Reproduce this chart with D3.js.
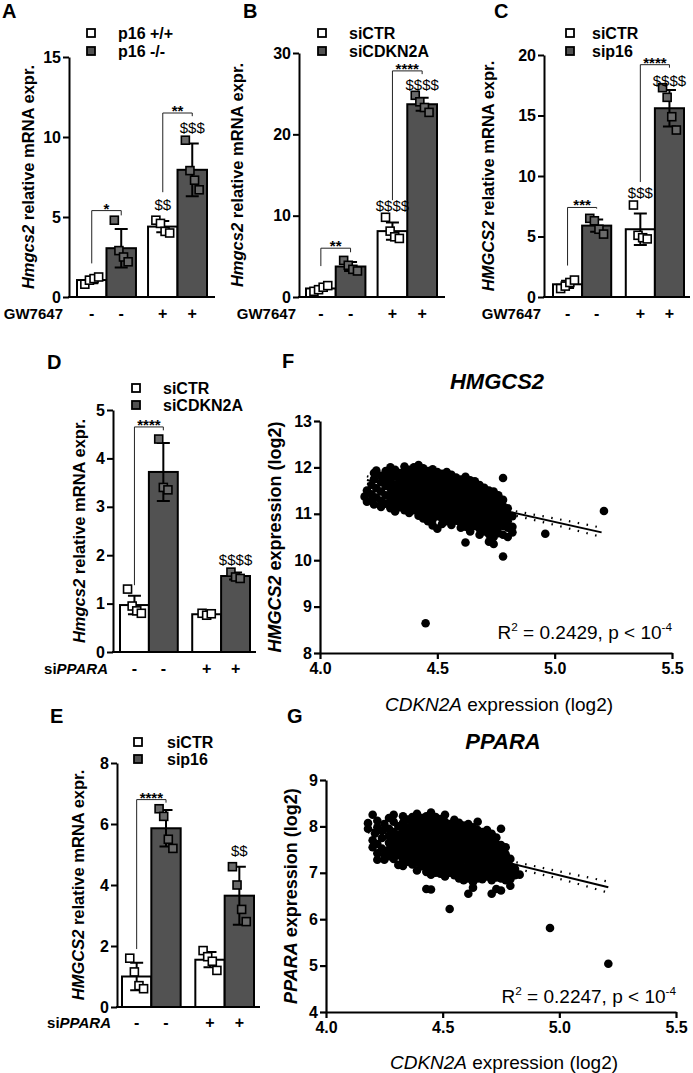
<!DOCTYPE html>
<html><head><meta charset="utf-8">
<script src="https://cdn.jsdelivr.net/npm/d3@7"></script>
<style>
body{margin:0;background:#fff}
svg{display:block;font-family:"Liberation Sans",Arial,Helvetica,sans-serif}
</style></head>
<body><svg id="c" width="693" height="1073"></svg>
<script>
// ================= DATA =================
// Panel A
const aSeries = ["p16 +/+", "p16 -/-"];
const aTreat = ["-", "-", "+", "+"];
const aMean = [1.06, 3.05, 4.4, 7.95];
const aSD = [0.2, 1.2, 0.35, 1.65];
const aReps = [[0.8, 1.05, 1.15, 1.25], [4.8, 2.9, 2.5, 2.2], [4.8, 4.6, 4.1, 4.0], [9.8, 7.9, 7.3, 6.7]];
const aTicks = [0, 5, 10, 15];
const aStars = ["*", "**"];
const aDollars = ["", "", "$$", "$$$"];
// Panel B
const bSeries = ["siCTR", "siCDKN2A"];
const bTreat = ["-", "-", "+", "+"];
const bMean = [1.05, 3.75, 8.1, 23.7];
const bSD = [0.3, 0.55, 1.05, 0.8];
const bReps = [[0.7, 0.9, 1.2, 1.4], [4.5, 3.9, 3.4, 3.2], [9.8, 8.1, 7.4, 7.2], [24.8, 24.0, 23.3, 22.7]];
const bTicks = [0, 10, 20, 30];
const bStars = ["**", "****"];
const bDollars = ["", "", "$$$$", "$$$$"];
// Panel C
const cSeries = ["siCTR", "sip16"];
const cTreat = ["-", "-", "+", "+"];
const cMean = [1.05, 5.9, 5.6, 15.6];
const cSD = [0.3, 0.5, 1.3, 1.5];
const cReps = [[0.7, 0.9, 1.2, 1.4], [6.5, 6.3, 5.6, 5.2], [7.6, 5.1, 4.9, 4.8], [17.3, 16.5, 14.9, 13.8]];
const cTicks = [0, 5, 10, 15, 20];
const cStars = ["***", "****"];
const cDollars = ["", "", "$$$", "$$$$"];
// Panel D
const dSeries = ["siCTR", "siCDKN2A"];
const dTreat = ["-", "-", "+", "+"];
const dMean = [0.97, 3.72, 0.78, 1.57];
const dSD = [0.19, 0.6, 0.04, 0.07];
const dReps = [[1.3, 0.95, 0.85, 0.8], [4.4, 3.4, 3.35], [0.8, 0.76, 0.79], [1.65, 1.55, 1.52]];
const dTicks = [0, 1, 2, 3, 4, 5];
const dStars = ["****"];
const dDollars = ["", "", "", "$$$$"];
// Panel E
const eSeries = ["siCTR", "sip16"];
const eTreat = ["-", "-", "+", "+"];
const eMean = [1.0, 5.86, 1.55, 3.65];
const eSD = [0.45, 0.6, 0.25, 0.95];
const eReps = [[1.6, 1.15, 0.7, 0.6], [6.5, 6.25, 5.5, 5.2], [1.85, 1.65, 1.5, 1.2], [4.6, 4.0, 3.2, 2.8]];
const eTicks = [0, 2, 4, 6, 8];
const eStars = ["****"];
const eDollars = ["", "", "", "$$"];

// Panel F scatter (CDKN2A log2, HMGCS2 log2), columns of points
const fCols = [
 [4.19,[11.37]],[4.20,[11.50,11.26]],[4.22,[11.62,11.42,11.30]],[4.23,[11.88,11.75,11.20]],
 [4.24,[11.55,11.35,11.93]],[4.26,[11.82,11.68,11.48,11.28,11.15]],[4.28,[11.92,11.60,11.40,11.22,11.75]],
 [4.30,[12.00,11.85,11.70,11.55,11.42,11.28,11.12]],[4.32,[11.95,11.80,11.62,11.48,11.35,11.20,11.05]],
 [4.34,[11.88,11.74,11.58,11.42,11.28,11.14]],[4.36,[12.02,11.90,11.66,11.52,11.38,11.22,11.08,11.78]],
 [4.38,[11.95,11.82,11.70,11.56,11.44,11.30,11.16,11.02]],[4.40,[11.88,11.75,11.62,11.48,11.35,11.22,11.08,12.00]],
 [4.42,[12.05,11.92,11.80,11.66,11.52,11.40,11.26,11.12,10.96]],[4.44,[11.98,11.85,11.72,11.58,11.45,11.32,11.18,11.04,10.90]],
 [4.46,[11.92,11.78,11.65,11.52,11.38,11.25,11.12,10.98,10.84]],[4.48,[11.96,11.84,11.70,11.56,11.42,11.30,11.16,11.02,10.88,10.75]],
 [4.50,[11.90,11.76,11.62,11.50,11.36,11.22,11.08,10.95,10.68]],[4.52,[11.86,11.72,11.58,11.44,11.30,11.18,11.04,10.90,10.78]],
 [4.54,[11.90,11.78,11.64,11.50,11.38,11.24,11.10,10.96,10.84]],[4.56,[11.84,11.70,11.56,11.42,11.30,11.16,11.02,10.88,10.76]],
 [4.58,[11.78,11.65,11.52,11.38,11.25,11.12,10.98,10.85]],[4.60,[11.74,11.60,11.46,11.34,11.20,11.06,10.94,10.80,10.70]],
 [4.62,[11.80,11.66,11.52,11.40,11.26,11.12,11.00,10.86,10.72,10.38]],[4.64,[11.72,11.58,11.44,11.30,11.18,11.04,10.90,10.76,10.62]],
 [4.66,[11.70,11.55,11.42,11.28,11.14,11.00,10.88,10.74]],[4.68,[11.62,11.48,11.35,11.22,11.08,10.95,10.82,10.68,10.55]],
 [4.70,[11.56,11.42,11.28,11.15,11.02,10.88,10.75,10.62]],[4.72,[11.50,11.36,11.22,11.10,10.96,10.82,10.70,10.56,10.40]],
 [4.74,[11.48,11.32,11.18,11.04,10.90,10.78,10.64,10.50,10.35]],[4.76,[11.40,11.26,11.12,10.98,10.85,10.72,10.58]],
 [4.78,[11.77,11.30,11.16,11.02,10.88,10.74,10.55,10.08]],[4.80,[11.12,10.98,10.84,10.70,10.50]],
 [4.82,[10.72,10.60,10.95]],[4.96,[10.57]],[5.21,[11.06]],[4.45,[8.64]]
];
const fFit = [[4.2, 11.73], [5.2, 10.6]];
const fCiUpper = [[4.2, 11.81], [4.5, 11.41], [4.85, 11.04], [5.0, 10.9], [5.2, 10.7]];
const fCiLower = [[4.2, 11.65], [4.5, 11.37], [4.85, 10.94], [5.0, 10.76], [5.2, 10.5]];
const fXTicks = [4.0, 4.5, 5.0, 5.5];
const fYTicks = [8, 9, 10, 11, 12, 13];

// Panel G scatter (CDKN2A log2, PPARA log2)
const gCols = [
 [4.18,[8.07,7.95]],[4.20,[8.25,7.70,7.55]],[4.21,[7.85]],[4.22,[8.12,7.98,7.62,7.42,7.28]],
 [4.24,[7.75,7.90,7.52]],[4.25,[8.05,7.38,7.28]],[4.27,[8.18,7.95,7.80,7.65,7.50,7.36]],
 [4.29,[8.25,8.10,7.88,7.72,7.58,7.44,7.30]],[4.31,[8.00,7.82,7.66,7.52,7.38,7.17]],
 [4.33,[8.22,8.08,7.92,7.76,7.60,7.46,7.30,7.15]],[4.35,[8.15,7.98,7.84,7.70,7.55,7.40,7.24]],
 [4.37,[8.20,8.05,7.90,7.74,7.60,7.46,7.32,7.18]],[4.39,[8.27,8.12,7.96,7.82,7.66,7.52,7.38,7.22,7.05]],
 [4.41,[8.18,8.02,7.88,7.72,7.58,7.44,7.30,7.14]],[4.43,[8.22,8.08,7.94,7.78,7.62,7.48,7.34,7.18,7.02,6.65]],
 [4.45,[8.30,8.14,7.98,7.84,7.70,7.54,7.40,7.26,7.10,6.96,6.64]],[4.47,[8.20,8.05,7.90,7.76,7.60,7.46,7.32,7.16,7.00]],
 [4.49,[8.16,8.00,7.86,7.70,7.56,7.42,7.26,7.12,6.98]],[4.51,[8.25,8.10,7.94,7.80,7.64,7.50,7.36,7.20,7.05,6.92]],
 [4.53,[8.05,7.90,7.74,7.60,7.46,7.30,7.16,7.00,6.22]],[4.55,[8.14,7.98,7.84,7.68,7.54,7.40,7.24,7.10,6.95]],
 [4.57,[8.08,7.92,7.78,7.62,7.48,7.34,7.18,7.04,6.88]],[4.59,[8.02,7.86,7.72,7.56,7.42,7.28,7.12,6.98,6.84]],
 [4.61,[8.05,7.90,7.76,7.60,7.46,7.30,7.16,7.02,6.88,6.55]],[4.63,[7.98,7.82,7.68,7.52,7.38,7.24,7.08,6.94,6.80,6.68]],
 [4.65,[8.10,7.92,7.76,7.62,7.46,7.32,7.18,7.02,6.88]],[4.67,[7.88,7.72,7.56,7.42,7.28,7.12,6.98,6.86]],
 [4.69,[7.92,7.78,7.64,7.50,7.36,7.20,7.06,6.92]],[4.71,[7.84,7.70,7.54,7.40,7.26,7.12,6.96,6.84,6.55]],
 [4.73,[7.76,7.62,7.48,7.34,7.20,7.06,6.90,6.65]],[4.75,[7.95,7.60,7.44,7.30,7.16,7.02,6.88,6.62]],
 [4.77,[7.55,7.40,7.26,7.12,6.98,6.84]],[4.79,[7.30,7.14,7.00,6.86,6.72]],[4.81,[6.95,7.08]],[4.83,[6.96]],
 [4.96,[5.81]],[5.21,[5.04]]
];
const gFit = [[4.18, 7.95], [5.21, 6.69]];
const gCiUpper = [[4.18, 8.03], [4.5, 7.58], [4.85, 7.19], [5.0, 7.03], [5.21, 6.81]];
const gCiLower = [[4.18, 7.87], [4.5, 7.54], [4.85, 7.05], [5.0, 6.87], [5.21, 6.57]];
const gXTicks = [4.0, 4.5, 5.0, 5.5];
const gYTicks = [4, 5, 6, 7, 8, 9];

// ================= DRAWING =================
const svg = d3.select("#c");
const DARK = "#525252", PT_DARK = "#6a6a6a";
const intFmt = d3.format("d");

function richText(g, x, y, parts, o) {
  const t = g.append("text").attr("x", x).attr("y", y)
    .attr("font-size", o.size).attr("font-weight", o.weight || "bold")
    .attr("text-anchor", o.anchor || "start").attr("fill", "#000");
  if (o.rotate) t.attr("transform", `rotate(-90 ${x} ${y})`);
  parts.forEach(p => {
    const s = t.append("tspan").text(p.t);
    if (p.i) s.attr("font-style", "italic");
    if (p.w) s.attr("font-weight", p.w);
    if (p.sup) s.attr("font-size", o.size * 0.62).attr("dy", -o.size * 0.42);
    if (p.unsup) s.attr("dy", o.size * 0.42);
  });
  return t;
}

function barPanel(o) {
  const g = svg.append("g");
  const y = d3.scaleLinear().domain([0, o.yMax]).range([o.y0, o.yTop]);
  const gx = d3.scaleBand().domain([0, 1]).range([o.xStart, o.xEnd]).paddingInner(o.pad);
  const sx = d3.scaleBand().domain([0, 1]).range([0, gx.bandwidth()]);
  const bx = i => gx(Math.floor(i / 2)) + sx(i % 2);
  const bc = i => bx(i) + sx.bandwidth() / 2;

  g.append("text").attr("x", o.letter[1]).attr("y", o.letter[2]).text(o.letter[0])
    .attr("font-size", 20).attr("font-weight", "bold");

  o.brackets.forEach((b, k) => {
    const xa = bc(b.a), xb = bc(b.b);
    g.append("path").attr("d", `M${xa},${y(b.la)}V${y(b.top)}H${xb}V${y(b.lb)}`)
      .attr("fill", "none").attr("stroke", "#222").attr("stroke-width", 1);
    g.append("text").attr("x", (xa + xb) / 2).attr("y", y(b.top) + 3).attr("text-anchor", "middle")
      .attr("font-size", 15).attr("font-weight", "bold").text(o.stars[k]);
  });

  o.mean.forEach((m, i) => {
    g.append("rect").attr("x", bx(i)).attr("y", y(m)).attr("width", sx.bandwidth()).attr("height", y(0) - y(m))
      .attr("fill", i % 2 ? DARK : "#fff").attr("stroke", "#000").attr("stroke-width", 2);
  });
  o.mean.forEach((m, i) => {
    const c = bc(i), hi = y(m + o.sd[i]), lo = y(m - o.sd[i]);
    g.append("path").attr("d", `M${c},${lo}V${hi}M${c - 6.5},${hi}H${c + 6.5}M${c - 6.5},${lo}H${c + 6.5}`)
      .attr("stroke", "#000").attr("stroke-width", 2).attr("fill", "none");
  });
  o.reps.forEach((arr, i) => {
    const n = arr.length;
    arr.forEach((v, j) => {
      const cx = bc(i) + (j - (n - 1) / 2) * 4.6;
      g.append("rect").attr("x", cx - 4).attr("y", y(v) - 4).attr("width", 8).attr("height", 8)
        .attr("fill", i % 2 ? PT_DARK : "#fff").attr("stroke", "#000").attr("stroke-width", 1.6);
    });
  });
  o.dollars.forEach((d, i) => {
    if (!d) return;
    g.append("text").attr("x", bc(i)).attr("y", y(o.dollarY[i])).attr("text-anchor", "middle")
      .attr("font-size", 15).text(d);
  });

  const ax = g.append("g").attr("transform", `translate(${o.axisX},0)`)
    .call(d3.axisLeft(y).tickValues(o.ticks).tickFormat(intFmt).tickSize(6).tickSizeOuter(0).tickPadding(2));
  ax.select(".domain").attr("stroke-width", 2).attr("stroke", "#000");
  ax.selectAll(".tick line").attr("stroke-width", 2).attr("stroke", "#000");
  ax.selectAll(".tick text").attr("font-size", 16).attr("font-weight", "bold").attr("font-family", null).attr("fill", "#000");
  g.append("line").attr("x1", o.axisX - 1).attr("x2", o.axisEnd).attr("y1", o.y0).attr("y2", o.y0)
    .attr("stroke", "#000").attr("stroke-width", 2);

  o.treat.forEach((t, i) => {
    g.append("text").attr("x", bc(i)).attr("y", o.treatY).attr("text-anchor", "middle")
      .attr("font-size", 16).attr("font-weight", "bold").text(t);
  });
  richText(g, o.treatLabelX, o.treatY, o.treatLabel, {size: 15, anchor: "end"});

  richText(g, o.titleX, (o.y0 + o.yTop) / 2, o.title, {size: 16.5, anchor: "middle", rotate: true});

  o.series.forEach((s, k) => {
    g.append("rect").attr("x", o.legX - 4).attr("y", o.legY[k] - 4).attr("width", 8).attr("height", 8)
      .attr("fill", k ? DARK : "#fff").attr("stroke", "#000").attr("stroke-width", 1.8);
    g.append("text").attr("x", o.legTX).attr("y", o.legY[k] + 6).attr("font-size", 16)
      .attr("font-weight", "bold").text(s);
  });
}

const mouseTitle = [{t: "Hmgcs2", i: true}, {t: " relative mRNA expr."}];
const humanTitle = [{t: "HMGCS2", i: true}, {t: " relative mRNA expr."}];
const gwLabel = [{t: "GW7647"}];
const siLabel = [{t: "si"}, {t: "PPARA", i: true}];

barPanel({letter: ["A", 2, 18], axisX: 69, y0: 297, yTop: 57, yMax: 15, ticks: aTicks,
  xStart: 77, xEnd: 207, pad: 0.17, axisEnd: 215,
  mean: aMean, sd: aSD, reps: aReps, series: aSeries, treat: aTreat, stars: aStars, dollars: aDollars,
  dollarY: [0, 0, 5.45, 10.25],
  brackets: [{a: 0, b: 1, top: 5.4, la: 2.1, lb: 5.1}, {a: 2, b: 3, top: 11.5, la: 6.55, lb: 11.3}],
  treatY: 319, treatLabel: gwLabel, treatLabelX: 63, title: mouseTitle, titleX: 34,
  legX: 91, legTX: 118, legY: [33, 51]});

barPanel({letter: ["B", 243, 18], axisX: 299, y0: 297, yTop: 53, yMax: 30, ticks: bTicks,
  xStart: 306, xEnd: 437, pad: 0.17, axisEnd: 445,
  mean: bMean, sd: bSD, reps: bReps, series: bSeries, treat: bTreat, stars: bStars, dollars: bDollars,
  dollarY: [0, 0, 10.6, 25.4],
  brackets: [{a: 0, b: 1, top: 6.0, la: 3.8, lb: 5.5}, {a: 2, b: 3, top: 27.8, la: 11.9, lb: 27.4}],
  treatY: 319, treatLabel: gwLabel, treatLabelX: 296, title: mouseTitle, titleX: 243,
  legX: 322, legTX: 349, legY: [33, 51]});

barPanel({letter: ["C", 494, 18], axisX: 544, y0: 297, yTop: 55, yMax: 20, ticks: cTicks,
  xStart: 553, xEnd: 684, pad: 0.2, axisEnd: 690,
  mean: cMean, sd: cSD, reps: cReps, series: cSeries, treat: cTreat, stars: cStars, dollars: cDollars,
  dollarY: [0, 0, 8.2, 17.4],
  brackets: [{a: 0, b: 1, top: 7.4, la: 2.6, lb: 7.3}, {a: 2, b: 3, top: 19.2, la: 9.5, lb: 18.95}],
  treatY: 319, treatLabel: gwLabel, treatLabelX: 541, title: humanTitle, titleX: 494,
  legX: 570, legTX: 592, legY: [33, 51]});

barPanel({letter: ["D", 47, 369], axisX: 113, y0: 652, yTop: 410, yMax: 5, ticks: dTicks,
  xStart: 120, xEnd: 250, pad: 0.2, axisEnd: 256,
  mean: dMean, sd: dSD, reps: dReps, series: dSeries, treat: dTreat, stars: dStars, dollars: dDollars,
  dollarY: [0, 0, 0, 1.8],
  brackets: [{a: 0, b: 1, top: 4.65, la: 1.38, lb: 4.58}],
  treatY: 674, treatLabel: siLabel, treatLabelX: 108, title: mouseTitle, titleX: 85,
  legX: 136, legTX: 163, legY: [388, 405]});

barPanel({letter: ["E", 50, 723], axisX: 117, y0: 1007, yTop: 763, yMax: 8, ticks: eTicks,
  xStart: 122, xEnd: 254, pad: 0.2, axisEnd: 260,
  mean: eMean, sd: eSD, reps: eReps, series: eSeries, treat: eTreat, stars: eStars, dollars: eDollars,
  dollarY: [0, 0, 0, 4.95],
  brackets: [{a: 0, b: 1, top: 6.8, la: 1.9, lb: 6.7}],
  treatY: 1028, treatLabel: siLabel, treatLabelX: 111, title: humanTitle, titleX: 84,
  legX: 138, legTX: 167, legY: [742, 759]});

function scatterPanel(o) {
  const g = svg.append("g");
  const x = d3.scaleLinear().domain([4.0, 5.5]).range([o.axisX, o.xEnd]);
  const y = d3.scaleLinear().domain([o.yMin, o.yMax]).range([o.y0, o.yTop]);
  g.append("text").attr("x", o.letter[1]).attr("y", o.letter[2]).text(o.letter[0])
    .attr("font-size", 20).attr("font-weight", "bold");
  g.append("text").attr("x", o.titleCX).attr("y", o.titleY).attr("text-anchor", "middle")
    .attr("font-size", 22).attr("font-weight", "bold").attr("font-style", "italic").text(o.gene);

  const pts = o.cols.flatMap(([cx, ys]) => ys.map(v => [cx, v]));
  g.selectAll("circle.p").data(pts).enter().append("circle")
    .attr("cx", d => x(d[0])).attr("cy", d => y(d[1])).attr("r", 4.3).attr("fill", "#000");

  const line = d3.line().x(d => x(d[0])).y(d => y(d[1])).curve(d3.curveMonotoneX);
  g.append("path").attr("d", line(o.fit)).attr("stroke", "#000").attr("stroke-width", 2).attr("fill", "none");
  [o.ciU, o.ciL].forEach(c => g.append("path").attr("d", line(c)).attr("stroke", "#000")
    .attr("stroke-width", 2.2).attr("fill", "none").attr("stroke-dasharray", "1.5,7.5"));

  const ay = g.append("g").attr("transform", `translate(${o.axisX},0)`)
    .call(d3.axisLeft(y).tickValues(o.yTicks).tickFormat(intFmt).tickSize(6).tickSizeOuter(0).tickPadding(2));
  const axx = g.append("g").attr("transform", `translate(0,${o.y0})`)
    .call(d3.axisBottom(x).tickValues(o.xTicks).tickFormat(d3.format(".1f")).tickSize(6).tickSizeOuter(0).tickPadding(4));
  [ay, axx].forEach(a => {
    a.select(".domain").attr("stroke-width", 2.2).attr("stroke", "#000");
    a.selectAll(".tick line").attr("stroke-width", 2.2).attr("stroke", "#000");
    a.selectAll(".tick text").attr("font-size", 16).attr("font-weight", "bold").attr("font-family", null).attr("fill", "#000");
  });

  richText(g, o.ytX, (o.y0 + o.yTop) / 2, [{t: o.gene, i: true}, {t: " expression (log2)"}],
    {size: 18, anchor: "middle", rotate: true});
  richText(g, (o.axisX + o.xEnd) / 2 + 3, o.xtY, [{t: "CDKN2A", i: true}, {t: " expression (log2)"}],
    {size: 19, anchor: "middle", weight: "normal"});
  richText(g, o.rX, o.rY, [{t: "R"}, {t: "2", sup: true}, {t: " = " + o.r2 + ", p < 10", unsup: true}, {t: "-4", sup: true}],
    {size: 19, anchor: "end", weight: "normal"});
}

scatterPanel({letter: ["F", 282, 368], gene: "HMGCS2", titleCX: 497, titleY: 389,
  axisX: 320, xEnd: 672, y0: 653, yTop: 421, yMin: 8, yMax: 13,
  cols: fCols, fit: fFit, ciU: fCiUpper, ciL: fCiLower, xTicks: fXTicks, yTicks: fYTicks,
  ytX: 281, xtY: 711, rX: 672, rY: 639, r2: "0.2429"});

scatterPanel({letter: ["G", 287, 723], gene: "PPARA", titleCX: 503, titleY: 749,
  axisX: 326, xEnd: 676, y0: 1012, yTop: 780, yMin: 4, yMax: 9,
  cols: gCols, fit: gFit, ciU: gCiUpper, ciL: gCiLower, xTicks: gXTicks, yTicks: gYTicks,
  ytX: 297, xtY: 1069, rX: 676, rY: 1003, r2: "0.2247"});
</script></body></html>
